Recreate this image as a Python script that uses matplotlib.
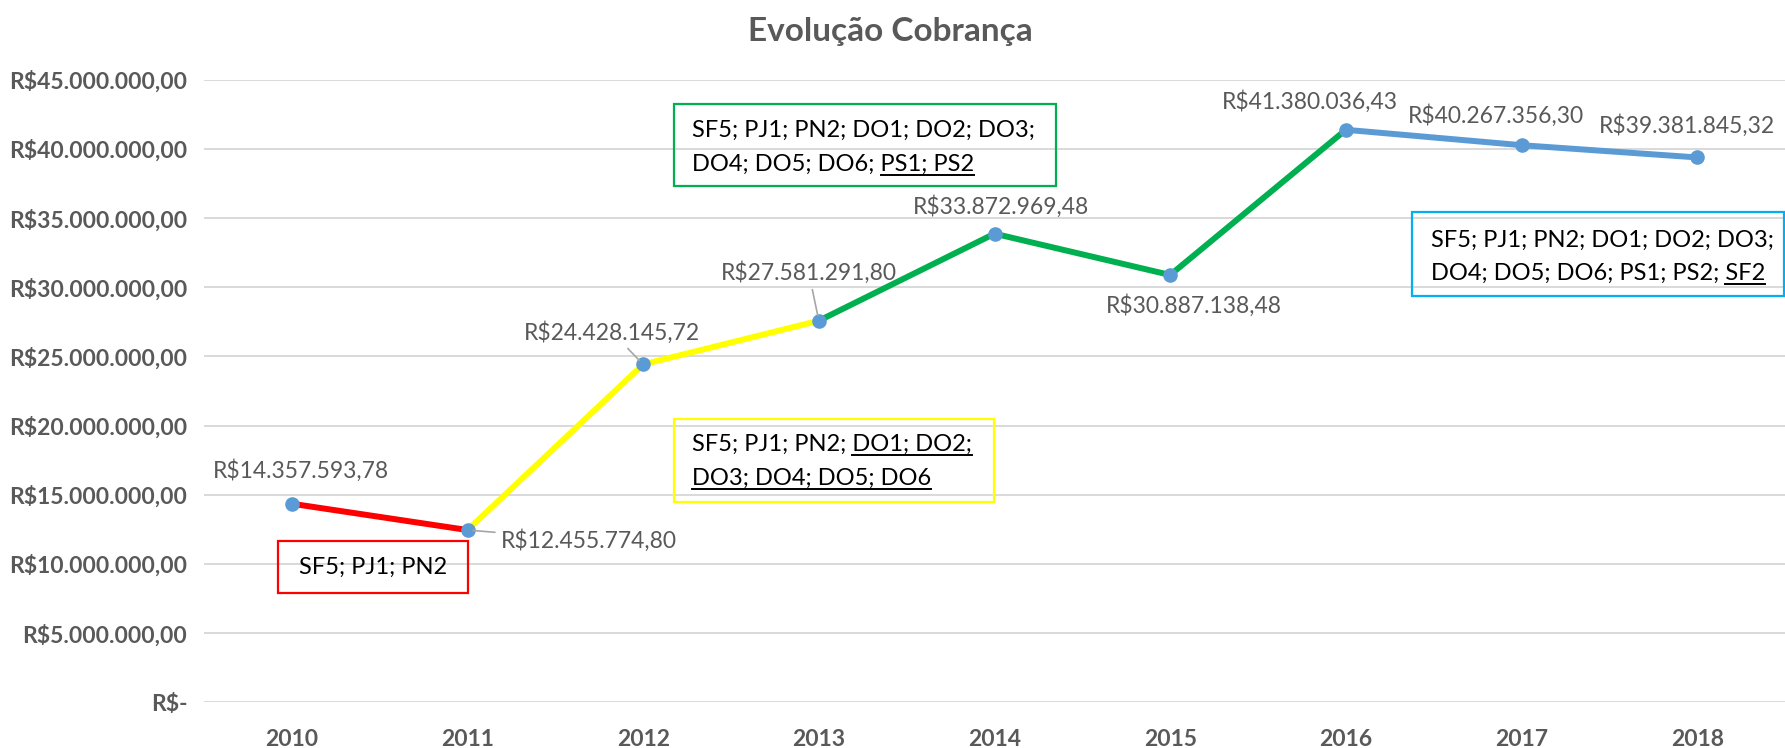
import numpy as np
import matplotlib
matplotlib.use('Agg')
import matplotlib.pyplot as plt
from matplotlib.lines import Line2D
from matplotlib.patches import Rectangle

plt.rcParams['font.family'] = ['Lato', 'DejaVu Sans']

# data
years = ['2010', '2011', '2012', '2013', '2014', '2015', '2016', '2017', '2018']
values = [14357593.78, 12455774.80, 24428145.72, 27581291.80, 33872969.48,
          30887138.48, 41380036.43, 40267356.30, 39381845.32]
# line segments (start index, end index, colour)
segments = [(0, 1, '#FF0000'), (1, 3, '#FFFF00'), (3, 6, '#00B050'), (6, 8, '#5B9BD5')]

# text boxes: lines as (plain part, underlined part)
box_red = [('SF5; PJ1; PN2', '')]
box_yellow = [('SF5; PJ1; PN2; ', 'DO1; DO2;'), ('', 'DO3; DO4; DO5; DO6')]
box_green = [('SF5; PJ1; PN2; DO1; DO2; DO3;', ''), ('DO4; DO5; DO6; ', 'PS1; PS2')]
box_blue = [('SF5; PJ1; PN2; DO1; DO2; DO3;', ''), ('DO4; DO5; DO6; PS1; PS2; ', 'SF2')]

W, H = 1785, 748
grey = '#595959'

def fmt_brl(v):
    if v == 0:
        return 'R$-'
    s = f'{v:,.2f}'
    s = s.replace(',', 'X').replace('.', ',').replace('X', '.')
    return 'R$' + s

fig = plt.figure(figsize=(W / 100, H / 100), dpi=100)
ax = fig.add_axes([204 / W, 1 - 702.4 / H, 1 - 204 / W, (702.4 - 79.7) / H])

x = np.arange(len(years))
for i0, i1, c in segments:
    ax.plot(x[i0:i1 + 1], values[i0:i1 + 1], color=c, lw=4.3,
            solid_capstyle='round', solid_joinstyle='round', zorder=3)
ax.plot(x, values, 'o', color='#5B9BD5', ms=9.5, zorder=4)

ax.set_xlim(-0.5, len(years) - 0.5)
ax.set_ylim(0, 45e6)
yt = np.arange(0, 45e6 + 1, 5e6)
ax.set_yticks(yt)
ax.set_yticklabels([fmt_brl(v) for v in yt])
ax.set_xticks(x)
ax.set_xticklabels(years)
ax.tick_params(axis='both', length=0, colors=grey, labelsize=16.5)
ax.tick_params(axis='y', pad=12)
ax.tick_params(axis='x', pad=19)
for lab in ax.get_xticklabels() + ax.get_yticklabels():
    lab.set_fontweight('bold')
ax.grid(axis='y', color='#D9D9D9', lw=1.4)
ax.set_axisbelow(True)
for s in ax.spines.values():
    s.set_visible(False)

# data labels: offset in pixels, alignment, leader line
label_pos = [(9, 33, 'center', False), (33, -10, 'left', True), (-31, 32, 'center', True),
             (-10, 48, 'center', True), (6, 27, 'center', False), (24, -31, 'center', False),
             (-36, 28, 'center', False), (-26, 30, 'center', False), (-10, 32, 'center', False)]
for i, v in enumerate(values):
    dx, dy, ha, lead = label_pos[i]
    ap = dict(arrowstyle='-', color='#A6A6A6', lw=1.2, shrinkA=2, shrinkB=4) if lead else None
    ax.annotate(fmt_brl(v), xy=(i, v), xytext=(dx, dy), textcoords='offset pixels',
                ha=ha, va='center', fontsize=16.5, color=grey, arrowprops=ap, zorder=5)

fig.text(890 / W, 1 - 31 / H, 'Evolução Cobrança', ha='center', va='center',
         fontsize=24, fontweight='bold', color=grey)

fig.canvas.draw()
renderer = fig.canvas.get_renderer()

def px(xp, yp):
    return xp / W, 1 - yp / H

def draw_box(rect, lines, color, tx, ty, dy, ha='left'):
    x0, y0, x1, y1 = rect
    fig.patches.append(Rectangle(px(x0, y1), (x1 - x0) / W, (y1 - y0) / H,
                                 transform=fig.transFigure, fill=False,
                                 edgecolor=color, lw=1.6, zorder=6))
    for k, (plain, under) in enumerate(lines):
        yb = ty + k * dy
        t = fig.text(*px(tx, yb), plain + under, ha=ha, va='baseline',
                     fontsize=17, color='black', zorder=7)
        if under:
            bb = t.get_window_extent(renderer)
            tmp = fig.text(0, 0, under, fontsize=17)
            wu = tmp.get_window_extent(renderer).width
            tmp.remove()
            yl = 1 - (yb + 4) / H
            fig.lines.append(Line2D([(bb.x1 - wu) / W, bb.x1 / W], [yl, yl],
                                    transform=fig.transFigure, color='black', lw=1.4))

draw_box((278, 541, 468, 593), box_red, '#FF0000', 373, 574, 0, ha='center')
draw_box((674, 419, 994, 502), box_yellow, '#FFFF00', 692, 451, 34)
draw_box((674, 104, 1056, 186), box_green, '#00B050', 692, 137, 34)
draw_box((1412, 212, 1784, 296), box_blue, '#00B0F0', 1431, 247, 33)

fig.savefig('out.png', dpi=100)
